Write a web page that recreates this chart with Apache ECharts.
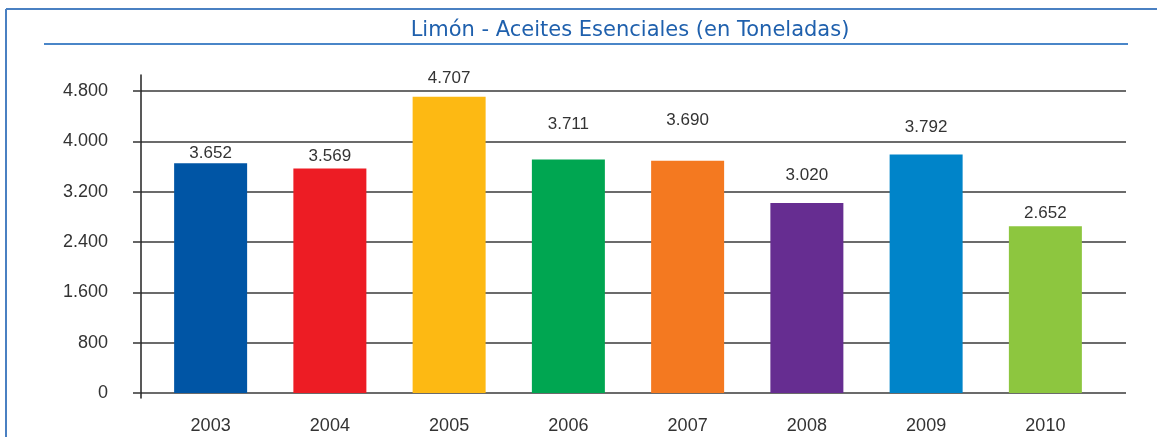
<!DOCTYPE html>
<html>
<head>
<meta charset="utf-8">
<script src="https://cdn.jsdelivr.net/npm/echarts@6/dist/echarts.min.js"></script>
<style>
  html, body { margin: 0; padding: 0; background: #fff; }
  #chart { width: 1157px; height: 437px; }
</style>
</head>
<body>
<div id="chart"></div>
<script>
// Limón - aceites esenciales, toneladas por año
var years = ['2003', '2004', '2005', '2006', '2007', '2008', '2009', '2010'];
var tons = [3652, 3569, 4707, 3711, 3690, 3020, 3792, 2652];
var barColors = ['#0055a5', '#ed1c24', '#fdb913', '#00a651', '#f47920', '#662d91', '#0084c9', '#8dc63f'];
// the value labels sit at uneven heights in the original
var labelGap = [1, 4, 10, 27, 32, 19, 19, 4];

function fmt(v) {
  return String(v).replace(/\B(?=(\d{3})+(?!\d))/g, '.');
}

var chartDom = document.getElementById('chart');
var myChart = echarts.init(chartDom);
var font = '"Liberation Sans", Arial, sans-serif';

var option = {
  backgroundColor: '#fff',
  animation: false,
  title: {
    text: 'Limón - Aceites Esenciales (en Toneladas)',
    left: 625,
    top: 15,
    textAlign: 'center',
    textStyle: { color: '#1f60ad', fontSize: 21, fontWeight: 'normal', fontFamily: '"DejaVu Sans", sans-serif' }
  },
  graphic: [
    { type: 'line', shape: { x1: 6, y1: 9, x2: 1157, y2: 9 }, style: { stroke: '#4a80c2', lineWidth: 2 } },
    { type: 'line', shape: { x1: 6, y1: 9, x2: 6, y2: 437 }, style: { stroke: '#4a80c2', lineWidth: 2 } },
    { type: 'line', shape: { x1: 44, y1: 44, x2: 1128, y2: 44 }, style: { stroke: '#4a86c8', lineWidth: 2 } }
  ],
  grid: [
    { left: 141, right: 31, top: 75, bottom: 39 },
    { left: 141, right: 31, top: 91, bottom: 44 },
    { left: 151, right: 52, top: 91, bottom: 44 }
  ],
  xAxis: [
    { gridIndex: 0, type: 'value', show: false },
    { gridIndex: 1, type: 'value', show: false },
    {
      gridIndex: 2,
      type: 'category',
      data: years,
      axisLine: { show: false },
      axisTick: { show: false },
      axisLabel: { color: '#333', fontSize: 18, fontFamily: font, margin: 24 }
    }
  ],
  yAxis: [
    {
      gridIndex: 0, type: 'value', min: 0, max: 1,
      axisLine: { show: true, lineStyle: { color: '#222', width: 1.5 } },
      axisTick: { show: false }, axisLabel: { show: false }, splitLine: { show: false }
    },
    {
      gridIndex: 1, type: 'value', min: 0, max: 4800, interval: 800,
      axisLine: { show: false },
      axisTick: { show: true, length: 8, lineStyle: { color: '#333', width: 1.5 } },
      axisLabel: {
        color: '#333', fontSize: 18, fontFamily: font, margin: 33,
        padding: [0, 0, 12, 0],
        formatter: function (v) { return fmt(v); }
      },
      splitLine: { show: true, lineStyle: { color: '#3a3a3a', width: 1.5 } }
    },
    { gridIndex: 2, type: 'value', min: 0, max: 4800, show: false }
  ],
  series: [
    {
      name: 'Toneladas',
      type: 'bar',
      xAxisIndex: 2,
      yAxisIndex: 2,
      barWidth: 73,
      data: tons.map(function (v, i) {
        return {
          value: v,
          itemStyle: { color: barColors[i] },
          label: { distance: labelGap[i] }
        };
      }),
      label: {
        show: true,
        position: 'top',
        color: '#333',
        fontSize: 17,
        lineHeight: 17,
        fontFamily: font,
        formatter: function (p) { return fmt(p.value); }
      }
    }
  ]
};

option && myChart.setOption(option);
window.addEventListener('resize', function () {
  myChart.resize();
});
</script>
</body>
</html>
